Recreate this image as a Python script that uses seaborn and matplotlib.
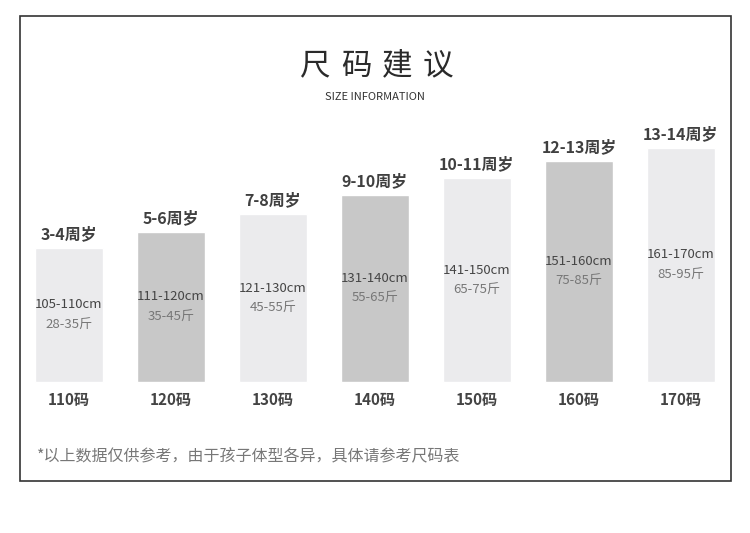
import matplotlib
matplotlib.use("Agg")
import matplotlib.pyplot as plt
import seaborn as sns
import pandas as pd
from matplotlib.patches import Rectangle

# chart data
sizes = ["110码", "120码", "130码", "140码", "150码", "160码", "170码"]
ages = ["3-4周岁", "5-6周岁", "7-8周岁", "9-10周岁", "10-11周岁", "12-13周岁", "13-14周岁"]
heights_cm = ["105-110cm", "111-120cm", "121-130cm", "131-140cm", "141-150cm", "151-160cm", "161-170cm"]
weights_jin = ["28-35斤", "35-45斤", "45-55斤", "55-65斤", "65-75斤", "75-85斤", "85-95斤"]
bar_height = [134, 150, 168, 187, 204, 221, 234]

title_chars = ["尺", "码", "建", "议"]
subtitle = "SIZE INFORMATION"
footnote = "*以上数据仅供参考，由于孩子体型各异，具体请参考尺码表"

sns.set_theme(style="white")
plt.rcParams['font.family'] = ['Noto Sans CJK SC', 'DejaVu Sans']

df = pd.DataFrame({"size": sizes, "h": bar_height})
light, dark = "#ebebed", "#c8c8c8"
palette = [light if i % 2 == 0 else dark for i in range(len(sizes))]

fig = plt.figure(figsize=(7.5, 5.33), dpi=100)
ax = fig.add_axes([0, 0, 1, 1])
sns.barplot(data=df, x="size", y="h", hue="size", palette=palette,
            legend=False, width=0.667, saturation=1, ax=ax)

# map data coords onto pixel layout
ax.set_xlim(-69 / 102, (750 - 69) / 102)
ax.set_ylim(-151, 382)
ax.axis("off")

for i, h in enumerate(bar_height):
    ax.text(i, h + 14, ages[i], ha="center", va="center", fontsize=11.5,
            fontweight="bold", color="#404040")
    ax.text(i, h / 2 + 10, heights_cm[i], ha="center", va="center",
            fontsize=9.5, color="#454545")
    ax.text(i, h / 2 - 10, weights_jin[i], ha="center", va="center",
            fontsize=9.5, color="#777777")
    ax.text(i, -18, sizes[i], ha="center", va="center", fontsize=11,
            fontweight="bold", color="#444444")

# title, spaced characters
for ch, px in zip(title_chars, [315, 356, 397, 438]):
    fig.text(px / 750, 1 - 66 / 533, ch, ha="center", va="center",
             fontsize=22, fontweight="light", color="#2a2a2a")
fig.text(375 / 750, 1 - 97 / 533, subtitle, ha="center", va="center",
         fontsize=8, color="#333333")
fig.text(37 / 750, 1 - 456 / 533, footnote, ha="left", va="center",
         fontsize=11.5, color="#777777")

# outer frame
fig.patches.append(Rectangle((20 / 750, 1 - 481 / 533), 711 / 750, 465 / 533,
                             transform=fig.transFigure, fill=False,
                             edgecolor="#333333", linewidth=1.2))

fig.savefig("out.png", dpi=100, facecolor="white")
